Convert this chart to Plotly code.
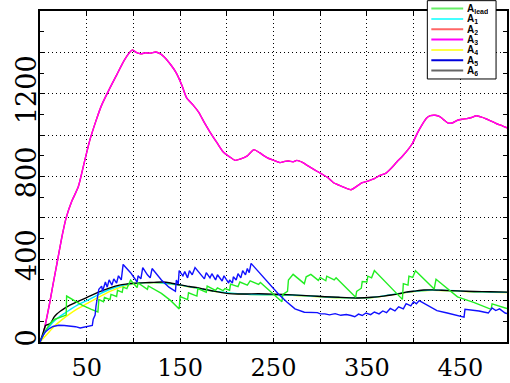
import plotly.graph_objects as go

# ---------------- data ----------------
A3_x = [0, 3, 6, 10, 14, 19, 24, 28, 34, 41, 47, 53, 60, 66, 74, 82, 90, 96, 99, 103, 108, 113, 118, 124, 128,
        133, 140, 146, 152, 157, 164, 170, 176, 182, 190, 196, 203, 209, 215, 222, 229, 235, 240, 245, 251, 257,
        262, 266, 271, 275, 281, 287, 294, 301, 308, 314, 320, 327, 333, 339, 345, 351, 358, 364, 370, 376, 382,
        388, 394, 399, 404, 409, 414, 418, 423, 428, 432, 437, 442, 447, 452, 457, 462, 467, 472, 478, 483, 489,
        495, 500]
A3_y = [0, 30, 90, 180, 280, 400, 520, 600, 680, 750, 860, 970, 1070, 1145, 1220, 1290, 1360, 1400, 1412, 1400,
        1393, 1398, 1396, 1402, 1395, 1378, 1340, 1300, 1240, 1180, 1145, 1110, 1060, 1015, 960, 920, 895, 878,
        885, 900, 930, 915, 900, 887, 877, 867, 873, 875, 871, 878, 868, 851, 832, 814, 795, 771, 758, 745, 736,
        752, 770, 778, 790, 805, 815, 840, 870, 898, 930, 962, 1010, 1050, 1083, 1094, 1096, 1090, 1075, 1058,
        1060, 1072, 1077, 1080, 1085, 1094, 1088, 1078, 1068, 1055, 1045, 1035]

A2_x = A3_x
A2_y = A3_y

A6_x = [0, 3, 6, 9, 12, 15, 18, 22, 27, 32, 40, 50, 62, 75, 85, 92, 100, 113, 122, 131, 140, 150, 160, 167,
        175, 184, 193, 202, 212, 222, 234, 250, 270, 290, 305, 320, 340, 355, 368, 376, 385, 392, 401, 411, 420,
        430, 447, 465, 482, 500]
A6_y = [0, 40, 80, 85, 95, 120, 135, 150, 165, 178, 195, 215, 240, 262, 275, 280, 284, 287, 288, 290, 285, 276,
        268, 264, 256, 248, 240, 234, 232, 232, 233, 231, 228, 223, 219, 216, 213, 216, 222, 227, 234, 241, 246,
        251, 252, 250, 247, 244, 243, 241]

A1_x = [0, 3, 6, 10, 15, 20, 25, 30, 40, 50, 62, 75, 90, 100, 122, 150, 184, 222, 270, 320, 355, 392, 420, 465, 500]
A1_y = [0, 30, 55, 75, 100, 120, 135, 150, 178, 200, 228, 255, 275, 282, 287, 275, 247, 231, 227, 215, 215, 240,
        251, 243, 240]

A4_x = [0, 5, 10, 15, 20, 30, 40, 50, 62, 75, 90, 100, 122, 150, 184, 222, 270, 320, 355, 392, 420, 465, 500]
A4_y = [0, 25, 50, 75, 95, 130, 160, 185, 215, 245, 270, 280, 286, 274, 246, 230, 226, 214, 214, 239, 250, 242,
        239]

A5_x = [0, 3, 6, 10, 14, 20, 26, 32, 38, 43, 48, 53, 56, 57, 59, 60, 62, 63, 66, 67, 70, 72, 74, 77, 79, 82, 84,
        87, 89, 97, 104, 105, 108, 110, 115, 118, 120, 130, 138, 145, 146, 148, 149, 153, 155, 158, 160, 163, 166,
        172, 176, 178, 182, 184, 188, 190, 195, 197, 202, 203, 206, 207, 210, 212, 215, 217, 220, 222, 224, 226,
        235, 245, 255, 264, 273, 283, 289, 297, 300, 305, 310, 316, 322, 328, 333, 337, 341, 345, 349, 354, 358,
        363, 367, 371, 375, 380, 384, 389, 392, 397, 400, 403, 406, 415, 425, 436, 447, 454, 455, 462, 470, 475,
        480, 484, 488, 492, 498, 500]
A5_y = [0, 30, 50, 65, 75, 81, 80, 78, 74, 68, 72, 78, 80, 110, 130, 175, 225, 255, 270, 245, 290, 265, 300, 275,
        305, 285, 320, 300, 375, 335, 290, 320, 305, 360, 325, 310, 355, 300, 265, 245, 300, 280, 345, 320, 340,
        310, 345, 325, 360, 330, 305, 335, 310, 330, 300, 325, 295, 320, 285, 300, 285, 315, 300, 330, 310, 345,
        325, 355, 335, 380, 335, 280, 233, 195, 160, 144, 144, 142, 136, 136, 131, 137, 129, 133, 128, 122, 135,
        128, 140, 132, 145, 136, 150, 142, 162, 150, 170, 160, 185, 175, 195, 185, 200, 178, 152, 140, 130, 120,
        158, 155, 150, 145, 140, 165, 152, 160, 140, 138]

Alead_x = [0, 4, 8, 12, 16, 20, 24, 28, 28.5, 35, 45, 55, 62, 63, 68, 69, 75, 76, 82, 83, 88, 89, 93, 97, 104,
           105, 115, 116, 130, 140, 149, 150, 158, 159, 168, 169, 178, 179, 188, 190, 196, 198, 203, 204, 212, 214,
           222, 225, 234, 236, 259, 260, 265, 266, 268, 271, 283, 285, 290, 298, 300, 306, 307, 315, 317, 338, 339,
           344, 345, 350, 351, 355, 358, 388, 389, 394, 395, 399, 402, 422, 424, 447, 465, 483, 484, 500]
Alead_y = [0, 40, 70, 95, 110, 118, 125, 130, 222, 205, 178, 158, 145, 205, 195, 215, 205, 230, 220, 250, 240,
           265, 258, 300, 263, 286, 255, 271, 235, 200, 160, 220, 205, 238, 222, 258, 240, 270, 250, 262, 248, 258,
           250, 280, 268, 290, 275, 295, 278, 288, 195, 230, 245, 300, 312, 327, 282, 315, 327, 298, 312, 296, 318,
           300, 310, 216, 245, 260, 292, 290, 318, 310, 345, 206, 282, 275, 318, 312, 345, 256, 303, 218, 190, 158,
           184, 162]

x_ticks = [50, 100, 150, 200, 250, 300, 350, 400, 450]
x_labels = ["50", "", "150", "", "250", "", "350", "", "450"]
y_ticks = [0, 200, 400, 600, 800, 1000, 1200, 1400]
y_labels = ["0", "", "400", "", "800", "", "1200", ""]

names = ["A<sub>lead</sub>", "A<sub>1</sub>", "A<sub>2</sub>", "A<sub>3</sub>", "A<sub>4</sub>",
         "A<sub>5</sub>", "A<sub>6</sub>"]
legend_colors = ["#66ee66", "#44ffff", "#ff6666", "#ff00ff", "#ffff44", "#0000dd", "#666666"]

# ---------------- figure ----------------
fig = go.Figure()
series = [
    (A2_x, A2_y, "#ff0000", names[2], "spline"),
    (A3_x, A3_y, "#ff00ff", names[3], "spline"),
    (A4_x, A4_y, "#ffff00", names[4], "spline"),
    (A1_x, A1_y, "#00e8ff", names[1], "spline"),
    (A6_x, A6_y, "#000000", names[6], "spline"),
    (Alead_x, Alead_y, "#22ee22", names[0], "linear"),
    (A5_x, A5_y, "#1010ff", names[5], "linear"),
]
for xs, ys, col, nm, shp in series:
    line = dict(color=col, width=1.4, shape=shp)
    if shp == "spline":
        line["smoothing"] = 0.6
    fig.add_trace(go.Scatter(x=xs, y=ys, mode="lines", name=nm, line=line, showlegend=False))

# plot area in pixels: x 40..509, y 11..347
L, R, T, B = 40, 509, 11, 347
def px2paper_x(p):
    return (p - L) / (R - L)
def px2paper_y(p):
    return (B - p) / (B - T)

shapes = [dict(type="rect", xref="paper", yref="paper",
               x0=px2paper_x(429), x1=px2paper_x(498), y0=px2paper_y(80), y1=px2paper_y(0.5),
               line=dict(color="black", width=1), fillcolor="white", layer="above")]
annotations = []
for i, (nm, col) in enumerate(zip(names, legend_colors)):
    yc = 8.5 + i * 10.5
    shapes.append(dict(type="line", xref="paper", yref="paper",
                       x0=px2paper_x(433), x1=px2paper_x(465),
                       y0=px2paper_y(yc), y1=px2paper_y(yc),
                       line=dict(color=col, width=2), layer="above"))
    annotations.append(dict(xref="paper", yref="paper", x=px2paper_x(468), y=px2paper_y(yc + 0.5),
                            xanchor="left", yanchor="middle", showarrow=False,
                            height=10, valign="middle", borderpad=0,
                            text="<b>" + nm + "</b>",
                            font=dict(family="Liberation Sans", size=10, color="black")))

fig.update_layout(
    width=510, height=383,
    margin=dict(l=40, r=1, t=11, b=36),
    paper_bgcolor="white", plot_bgcolor="white",
    shapes=shapes, annotations=annotations,
    xaxis=dict(range=[0, 500], tickvals=x_ticks, ticktext=x_labels,
               ticks="inside", ticklen=4, tickwidth=1, tickcolor="black",
               showgrid=True, gridcolor="black", gridwidth=1, griddash="1px,3px",
               showline=True, linecolor="black", linewidth=2, mirror="ticks", zeroline=False,
               ticklabelstandoff=3,
               tickfont=dict(family="DejaVu Serif", size=24, color="black")),
    yaxis=dict(range=[0, 1600], tickvals=y_ticks, ticktext=y_labels, tickangle=-90,
               ticks="inside", ticklen=4, tickwidth=1, tickcolor="black",
               showgrid=True, gridcolor="black", gridwidth=1, griddash="1px,3px",
               showline=True, linecolor="black", linewidth=2, mirror="ticks", zeroline=False,
               ticklabelstandoff=-9,
               minor=dict(dtick=100, ticks="inside", ticklen=4, tickcolor="black", showgrid=False),
               tickfont=dict(family="DejaVu Serif", size=27, color="black")),
)

fig.write_html("out.html")
